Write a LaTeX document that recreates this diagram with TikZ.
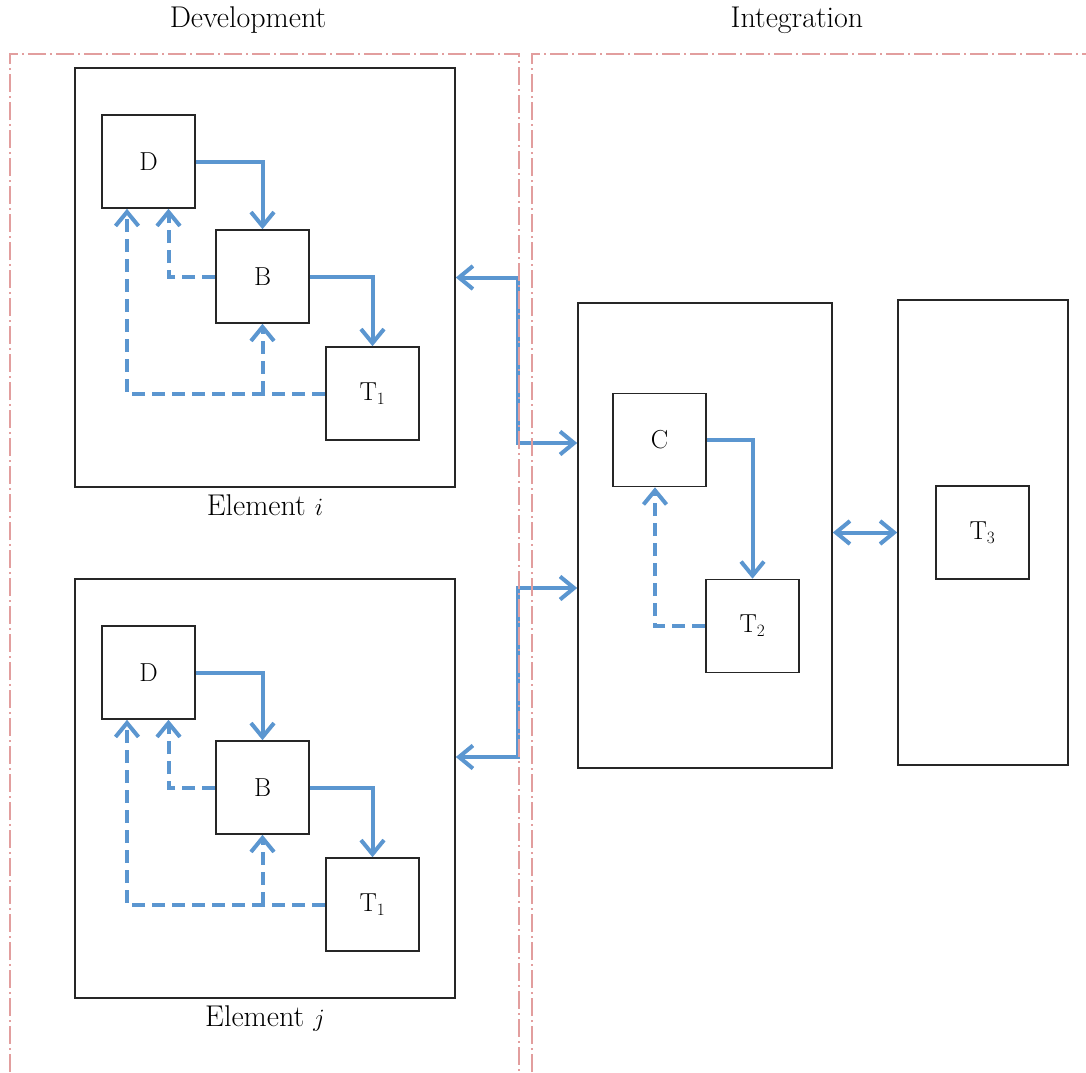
\documentclass[tikz,border=0pt]{standalone}
\usetikzlibrary{arrows.meta,positioning}
\definecolor{flowblue}{RGB}{91,150,208}
\definecolor{zonered}{RGB}{226,158,158}
\tikzset{
box/.style={draw=black!85,line width=1.6pt,minimum width=93pt,minimum height=93pt,inner sep=0pt,font=\fontsize{26}{29}\selectfont},
frame/.style={draw=black!85,line width=1.6pt,inner sep=0pt},
flow/.style={draw=flowblue,line width=4pt,-{Straight Barb[length=14pt,width=23pt]}},
fback/.style={flow,dash pattern=on 13pt off 7pt},
link/.style={flow,{Straight Barb[length=14pt,width=23pt]}-{Straight Barb[length=14pt,width=23pt]}},
zone/.style={draw=zonered,line width=1.6pt,dash pattern=on 18pt off 4pt on 2pt off 4pt},
head/.style={font=\fontsize{30}{33}\selectfont},
}
\begin{document}
\begin{tikzpicture}[x=1pt,y=-1pt]
\useasboundingbox (0,0) rectangle (1086,1072);
\node[head] (hdev) at (248,20) {Development};
\node[head] (hint) at (797,20) {Integration};
\foreach \el/\oy in {i/0,j/511}{
\node[frame,minimum width=380pt,minimum height=419pt] (E\el) at (265,277.5+\oy) {};
\node[head,below=3pt of E\el] (L\el) {Element $\el$};
\node[box] (D\el) at (148.5,161.5+\oy) {D};
\node[box] (B\el) at (262.5,276.5+\oy) {B};
\node[box] (T\el) at (372.5,393.5+\oy) {T$_1$};
\draw[flow] (D\el.east) -| (B\el.north);
\draw[flow] (B\el.east) -| (T\el.north);
\draw[fback] (B\el.west) -| ([xshift=20pt]D\el.south);
\draw[fback] (T\el.west) -| ([xshift=-21.5pt]D\el.south);
\draw[fback] (B\el.south |- T\el.west) -- (B\el.south);
}
\node[frame,minimum width=254pt,minimum height=465pt] (Int) at (705,535.5) {};
\node[frame,minimum width=170pt,minimum height=465pt] (Tst) at (983,532.5) {};
\node[box] (C) at (659.5,440) {C};
\node[box] (T2) at (752.5,626) {T$_2$};
\node[box] (T3) at (982.5,532.5) {T$_3$};
\draw[flow] (C.east) -| (T2.north);
\draw[fback] (T2.west) -| ([xshift=-4.5pt]C.south);
\draw[link] (Ei.east) -- ++(62,0) |- ([yshift=92.5pt]Int.west);
\draw[link] ([yshift=31.5pt]Ej.east) -- ++(62,0) |- ([yshift=-52.5pt]Int.west);
\draw[link] (Int.east |- Tst.west) -- (Tst.west);
\draw[zone] (10,1072) |- (519,54) -- (519,1072);
\draw[zone] (532,1072) |- (1086,54);
\end{tikzpicture}
\end{document}
